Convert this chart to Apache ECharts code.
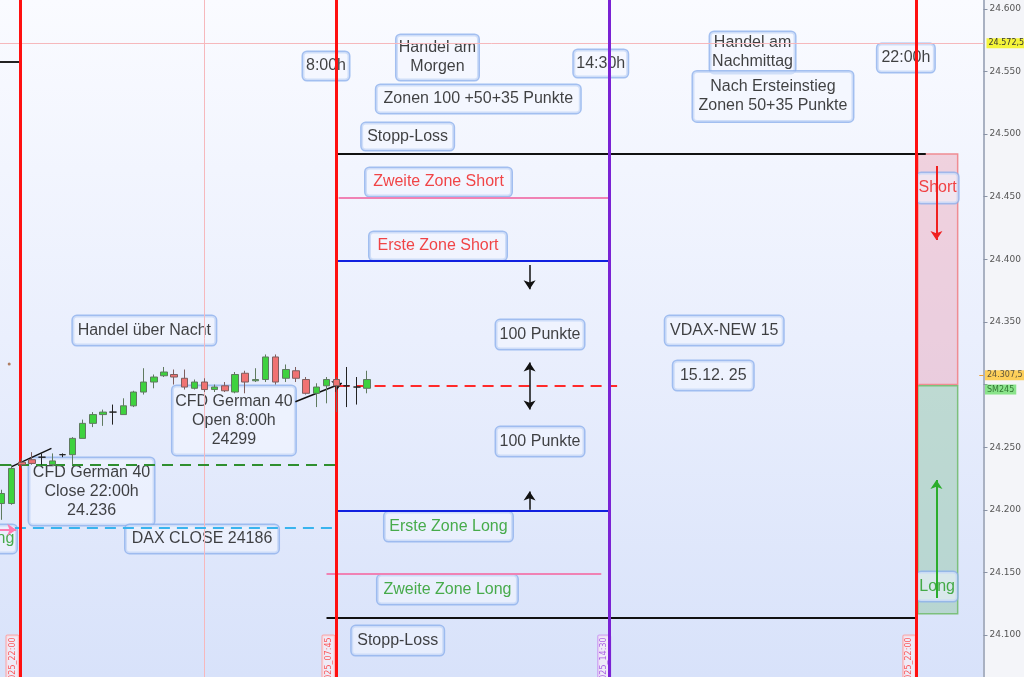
<!DOCTYPE html>
<html><head><meta charset="utf-8">
<script src="https://cdn.jsdelivr.net/npm/echarts@6/dist/echarts.min.js"></script>
<style>html,body{margin:0;padding:0;background:#f4f5f9}#c{width:1024px;height:677px}</style>
</head><body><div id="c"></div>
<script>
// ---------- data ----------
// slot index of each 15-minute candle (slot 32 = 07:45 / 8:00 bar)
const candleSlots = [-1,0,1,2,3,4,5,6,7,8,9,10,11,12,13,14,15,16,17,18,19,20,21,22,23,24,25,26,27,28,29,30,31,32,33,34,35];
const opens  = [24205,24205,24238,24240,24242,24236,24244,24244,24257,24269,24276,24278,24276,24283,24294,24302,24307,24308,24305,24297,24302,24296,24299,24294,24309,24303,24304,24322,24305,24311,24304,24293,24299,24304,24299,24298,24297];
const closes = [24213,24233,24236,24237,24242,24239,24244,24257,24269,24276,24278,24278,24283,24294,24302,24306,24310,24306,24298,24302,24296,24298,24295,24308,24302,24304,24322,24302,24312,24305,24293,24298,24304,24299,24299,24298,24304];
const lows   = [24192,24204,24233,24236,24236,24235,24242,24236,24257,24266,24267,24268,24276,24282,24292,24297,24306,24300,24296,24296,24294,24294,24294,24293,24293,24302,24302,24300,24302,24302,24292,24282,24285,24278,24282,24284,24293];
const highs  = [24216,24236,24241,24246,24245,24245,24245,24258,24272,24278,24280,24284,24289,24295,24313,24308,24314,24312,24312,24304,24305,24300,24302,24310,24311,24313,24324,24324,24316,24314,24306,24301,24306,24306,24314,24306,24311];

// price levels
const openPrice = 24299;          // CFD German 40 Open 8:00h
const cfdClose = 24236;           // CFD German 40 Close 22:00h
const daxClose = 24186;           // DAX CLOSE
const zone1Short = 24399, zone2Short = 24449, stopShort = 24484;
const zone1Long = 24199, zone2Long = 24149, stopLong = 24114;
const prevLevel = 24557.5;
const crossPrice = 24572.5;
const lastPrice = 24307.5;

// time lines (slot positions)
const lineClose22 = 0.81, line0800 = 32, line1430 = 58.85, line2200 = 89.05, crossSlot = 18.95;

// axis ticks (24.300 is covered by the price tags)
const priceTicks = [24100,24150,24200,24250,24300,24350,24400,24450,24500,24550,24600];
const priceLabels = [24100,24150,24200,24250,24350,24400,24450,24500,24550,24600];

// annotation texts with anchor [slot, price]
const notes = [
  ['8:00h', [30.96, 24554.3]],
  ['Handel am\nMorgen', [41.94, 24561.1]],
  ['14:30h', [58.02, 24556.3]],
  ['Zonen 100 +50+35 Punkte', [45.96, 24528.0]],
  ['Handel am\nNachmittag', [72.97, 24565.1]],
  ['Nach Ersteinstieg\nZonen 50+35 Punkte', [74.98, 24530.0]],
  ['22:00h', [88.07, 24560.7]],
  ['Stopp-Loss', [39.0, 24498.0]],
  ['Zweite Zone Short', [42.04, 24461.7]],
  ['Erste Zone Short', [41.99, 24410.6]],
  ['Handel über Nacht', [13.07, 24343.1]],
  ['100 Punkte', [52.04, 24339.9]],
  ['VDAX-NEW 15', [70.18, 24343.1]],
  ['15.12. 25', [69.1, 24307.2]],
  ['CFD German 40\nOpen 8:00h\n24299', [21.89, 24271.3]],
  ['100 Punkte', [52.04, 24254.5]],
  ['CFD German 40\nClose 22:00h\n24.236', [7.87, 24214.6]],
  ['DAX CLOSE 24186', [18.75, 24176.7]],
  ['Erste Zone Long', [43.02, 24186.6]],
  ['Zweite Zone Long', [42.92, 24136.3]],
  ['Stopp-Loss', [38.02, 24095.6]],
  ['Short', [91.2, 24456.9]],
  ['Long', [91.15, 24138.7]],
  ['Long', [-1.1, 24176.7]]
];
const timeStamps = [
  ['15.12.2025_22:00', [0.08, 24069]],
  ['15.12.2025_07:45', [31.2, 24069]],
  ['15.12.2025_14:30', [58.36, 24069]],
  ['15.12.2025_22:00', [88.41, 24069]]
];

// ---------- styles ----------
const boxSizes = [[49,28],[85,45],[57,27],[207,28],[88,41],[163,50],[60,28],[95,27],[149,28],[140,28],[146,29],[91,29],[121,29],[83,29],[126,69],[91,29],[128,67],[156,28],[131,29],[143,29],[95,29],[44,30],[43,29],[43,28]];
const boxColors = ['#111','#111','#111','#111','#111','#111','#111','#111','#f01818','#f01818','#111','#111','#111','#111','#111','#111','#111','#111','#1e9a1e','#1e9a1e','#111','#f01818','#1e9a1e','#1e9a1e'];
const boxOffsets = {23: [-4, 0]};
const stampColors = ['#ff3030','#ff3030','#9a40e0','#ff3030'];
const LH = 19;

const noteData = notes.map((n, i) => {
  const lines = n[0].split('\n').length;
  const [w, h] = boxSizes[i];
  const pv = Math.max(0, (h - lines * LH) / 2);
  return {
    value: n[1],
    label: {
      formatter: n[0], width: w - 3, padding: [pv, 0, pv, 0], color: boxColors[i],
      offset: boxOffsets[i] || [0, 0]
    }
  };
});
const stampData = timeStamps.map((t, i) => ({
  value: t[1],
  label: {
    formatter: t[0], rotate: 90, fontSize: 8, fontFamily: 'DejaVu Sans', color: stampColors[i],
    borderColor: stampColors[i] === '#9a40e0' ? '#c890f0' : '#ff9a9a', borderWidth: 1, borderRadius: 1,
    backgroundColor: 'rgba(250,240,245,0.8)', padding: [1, 2], lineHeight: 10
  }
}));

function seg(x1, y1, x2, y2, style, s1, s2) {
  return [
    {coord: [x1, y1], symbol: s1 || 'none', symbolSize: 9},
    {coord: [x2, y2], symbol: s2 || 'none', symbolSize: 9, lineStyle: style}
  ];
}
const solid = (c, w) => ({color: c, width: w, type: 'solid'});
const dashed = (c, w) => ({color: c, width: w, type: [11, 7]});

const xMin = -1.147, xMax = 95.716, yMin = 24066.5, yMax = 24607;
const arrowX = 51.01, bigArrowX = 91.08;
const hidden = {color: 'rgba(0,0,0,0)'};

const chart = echarts.init(document.getElementById('c'));
chart.setOption({
  animation: false,
  grid: {
    left: 0, right: 36, top: 0, bottom: 0, show: true, borderWidth: 0, containLabel: false,
    backgroundColor: new echarts.graphic.LinearGradient(0, 0, 0, 1, [
      {offset: 0, color: '#fafbff'}, {offset: 0.5, color: '#eaeffd'}, {offset: 1, color: '#d8e2fa'}
    ])
  },
  xAxis: {type: 'value', min: xMin, max: xMax, show: false},
  yAxis: {
    type: 'value', position: 'right', min: yMin, max: yMax, scale: true,
    splitLine: {show: false},
    axisLine: {show: true, onZero: false, lineStyle: {color: '#a9b1c2', width: 2}},
    axisTick: {show: true, length: 4, customValues: priceTicks, lineStyle: {color: '#8a93a5'}},
    axisLabel: {
      customValues: priceLabels, fontSize: 9, fontFamily: 'DejaVu Sans', color: '#555', margin: 6,
      formatter: v => (v / 1000).toFixed(3)
    }
  },
  series: [
    {
      type: 'scatter', z: 2, silent: true, symbolSize: 1, itemStyle: hidden,
      clip: false, emphasis: {disabled: true},
      label: {
        show: true, position: 'inside', fontSize: 16, fontFamily: 'Liberation Sans, Arial', lineHeight: LH,
        align: 'center', backgroundColor: 'rgba(242,246,255,0.7)', borderColor: '#8db0ec', borderWidth: 1.5,
        borderRadius: 4
      },
      data: noteData
    },
    {
      type: 'scatter', z: 2, silent: true, symbolSize: 1, itemStyle: hidden,
      clip: false, emphasis: {disabled: true},
      label: {show: true, position: 'inside'},
      data: stampData
    },
    {
      type: 'line', z: 3, data: [], silent: true,
      markArea: {
        silent: true,
        data: [
          [{coord: [89.25, stopShort], itemStyle: {color: 'rgba(236,160,178,0.42)', borderColor: '#f08c92', borderWidth: 1.5}}, {coord: [93.17, openPrice + 1]}],
          [{coord: [89.25, openPrice], itemStyle: {color: 'rgba(140,196,160,0.45)', borderColor: '#7cc07c', borderWidth: 1.5}}, {coord: [93.17, 24117]}]
        ]
      },
      markLine: {
        silent: true, symbol: 'none', label: {show: false},
        data: [
          {xAxis: crossSlot, lineStyle: solid('#f6b8bc', 1)},
          {yAxis: crossPrice, lineStyle: solid('#f6b8bc', 1),
            label: {show: true, position: 'end', distance: 3, formatter: '24.572,5', fontSize: 8, fontFamily: 'DejaVu Sans',
              color: '#333', backgroundColor: '#f4f43a', padding: [1, 2]}},
          seg(95.3, lastPrice, xMax, lastPrice, solid('#f0a030', 1)),
          seg(xMin, prevLevel, lineClose22, prevLevel, solid('#222', 2)),
          seg(xMin, cfdClose, line0800, cfdClose, dashed('#2f8f2f', 2)),
          seg(0.32, daxClose, line0800, daxClose, dashed('#39b4ee', 2)),
          seg(xMin, 24184, 0.45, 24184, solid('#ff7ab0', 2), 'none', 'arrow'),
          seg(line0800, stopShort, 90.03, stopShort, solid('#111', 2)),
          seg(32.2, zone2Short, line1430, zone2Short, solid('#f082b4', 2)),
          seg(line0800, zone1Short, line1430, zone1Short, solid('#1020e0', 2)),
          seg(32.2, openPrice, 59.63, openPrice, dashed('#ff2a2a', 2)),
          seg(line0800, zone1Long, line1430, zone1Long, solid('#1020e0', 2)),
          seg(31.01, zone2Long, 58.07, zone2Long, solid('#f082b4', 2)),
          seg(31.01, stopLong, line2200, stopLong, solid('#111', 2)),
          {xAxis: lineClose22, lineStyle: solid('#ff1010', 3)},
          {xAxis: line0800, lineStyle: solid('#ff1010', 3)},
          {xAxis: line1430, lineStyle: solid('#7a22d4', 3)},
          {xAxis: line2200, lineStyle: solid('#ff1010', 3)},
          seg(arrowX, 24395.4, arrowX, 24376, solid('#111', 1.5), 'none', 'arrow'),
          seg(arrowX, 24317.5, arrowX, 24280, solid('#111', 1.5), 'arrow', 'arrow'),
          seg(arrowX, 24200, arrowX, 24214.5, solid('#111', 1.5), 'none', 'arrow'),
          seg(27.94, 24286.3, 32.51, 24301, solid('#111', 1.5), 'none', 'arrow'),
          seg(0, 24234.5, 3.92, 24249, solid('#111', 1.5)),
          seg(bigArrowX, 24474.5, bigArrowX, 24415.4, solid('#f02020', 2), 'none', 'arrow'),
          seg(bigArrowX, 24129.6, bigArrowX, 24223.8, solid('#2aad2a', 2), 'none', 'arrow')
        ]
      }
    },
    {
      type: 'scatter', z: 3, silent: true, symbolSize: 1, itemStyle: hidden, clip: false,
      label: {show: true, position: 'right', distance: 1, formatter: 'SM245', fontSize: 8, fontFamily: 'DejaVu Sans',
        color: '#1a5a1a', backgroundColor: '#6fe06f', padding: [1, 2]},
      data: [[xMax, 24296]]
    },
    {
      type: 'scatter', z: 3, silent: true, symbolSize: 1, itemStyle: hidden, clip: false,
      label: {show: true, position: 'right', distance: 1, formatter: '24.307,5', fontSize: 8, fontFamily: 'DejaVu Sans',
        color: '#333', backgroundColor: '#ffc632', padding: [1, 2]},
      data: [[xMax, lastPrice]]
    },
    {
      type: 'scatter', z: 3, silent: true, symbolSize: 3, itemStyle: {color: '#a0603a'},
      data: [[-0.24, 24316.4]]
    },
    {
      type: 'candlestick', z: 5, silent: true, barWidth: 7,
      dimensions: ['slot', 'open', 'close', 'lowest', 'highest'],
      encode: {x: 'slot', y: ['open', 'close', 'lowest', 'highest']},
      itemStyle: {
        color: '#3ed23e', color0: '#f07272',
        borderColor: '#5f7a5f', borderColor0: '#7f5e5e', borderColorDoji: '#222', borderWidth: 1
      },
      data: candleSlots.map((s, i) => [s, opens[i], closes[i], lows[i], highs[i]])
    }
  ]
});
</script>
</body></html>
